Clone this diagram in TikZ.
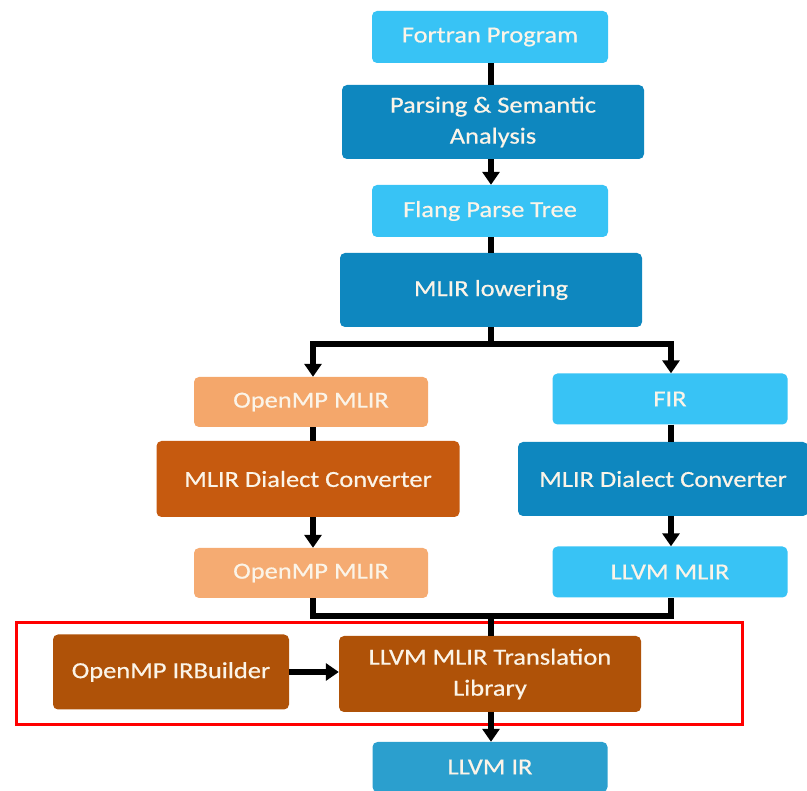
\documentclass[tikz,border=0pt]{standalone}
\usepackage{fontspec}
\setmainfont{Carlito}[FakeStretch=1.15,FakeBold=0.6]
\usetikzlibrary{arrows.meta}
\definecolor{lblue}{HTML}{38C3F5}
\definecolor{dblue}{HTML}{0E87BF}
\definecolor{lorange}{HTML}{F4A76B}
\definecolor{dorange}{HTML}{C65A0F}
\definecolor{brownbox}{HTML}{AF5208}
\definecolor{irblue}{HTML}{2B9FCE}
\definecolor{txt}{HTML}{FBF4E8}
\tikzset{
  box/.style={rectangle, rounded corners=5pt, text=txt, align=center, inner sep=0pt,
    font=\fontsize{23}{31}\selectfont},
  conn/.style={line width=5.5pt, draw=black},
  arr/.style={conn, -{Triangle[width=17pt,length=13pt]}},
}
\begin{document}
\begin{tikzpicture}[x=1pt,y=-1pt]
\useasboundingbox (0,0) rectangle (807,791);
% nodes
\node[box, fill=lblue, minimum width=236, minimum height=52] (fortran) at (490,37) {Fortran Program};
\node[box, fill=dblue, minimum width=302, minimum height=74] (parse) at (493,122) {Parsing \& Semantic\\Analysis};
\node[box, fill=lblue, minimum width=236, minimum height=52] (flang) at (490,211) {Flang Parse Tree};
\node[box, fill=dblue, minimum width=302, minimum height=74] (lower) at (491,290) {MLIR lowering};
\node[box, fill=lorange, minimum width=234, minimum height=50] (omp1) at (311,402) {OpenMP MLIR};
\node[box, fill=lblue, minimum width=235, minimum height=51] (fir) at (670,399) {FIR};
\node[box, fill=dorange, minimum width=303, minimum height=76] (dcl) at (308,479) {MLIR Dialect Converter};
\node[box, fill=dblue, minimum width=290, minimum height=74] (dcr) at (663,479) {MLIR Dialect Converter};
\node[box, fill=lorange!95!white, minimum width=234, minimum height=50] (omp2) at (311,573) {OpenMP MLIR};
\node[box, fill=lblue, minimum width=235, minimum height=51] (llvmmlir) at (670,572) {LLVM MLIR};
\node[box, fill=brownbox, minimum width=236, minimum height=75] (irb) at (171,672) {OpenMP IRBuilder};
\node[box, fill=brownbox, minimum width=302, minimum height=76] (trans) at (490,674) {LLVM MLIR Translation\\Library};
\node[box, fill=irblue, minimum width=235, minimum height=50] (llvmir) at (490,767) {LLVM IR};
% highlight frame
\draw[red, line width=3pt] (16.5,623) rectangle (742,725);
% connectors
\coordinate (split) at (491,344);
\coordinate (splitL) at (313,344);
\coordinate (splitR) at (671,344);
\coordinate (merge) at (491,616);
\coordinate (mergeL) at (313,616);
\coordinate (mergeR) at (671,616);
\draw[conn] (fortran.south -| 491,0) -- (parse.north -| 491,0);
\draw[arr] (parse.south -| 491,0) -- (flang.north -| 491,0);
\draw[conn] (flang.south -| 491,0) -- (lower.north -| 491,0);
\draw[conn] (lower.south -| split) -- (split);
\draw[arr] (splitL) -- (split) -- (splitR) -- (fir.north -| splitR);
\draw[arr] (split) -- (splitL) -- (omp1.north -| splitL);
\draw[conn] (omp1.south -| splitL) -- (dcl.north -| splitL);
\draw[arr] (dcl.south -| splitL) -- (omp2.north -| splitL);
\draw[conn] (fir.south -| splitR) -- (dcr.north -| splitR);
\draw[arr] (dcr.south -| splitR) -- (llvmmlir.north -| splitR);
\draw[conn, line join=miter] (omp2.south -| mergeL) -- (mergeL) -- (mergeR) -- (llvmmlir.south -| mergeR);
\draw[conn] (merge) -- (trans.north -| merge);
\draw[arr] (irb.east) -- (trans.west |- irb.east);
\draw[arr] (trans.south -| merge) -- (llvmir.north -| merge);
\end{tikzpicture}
\end{document}
